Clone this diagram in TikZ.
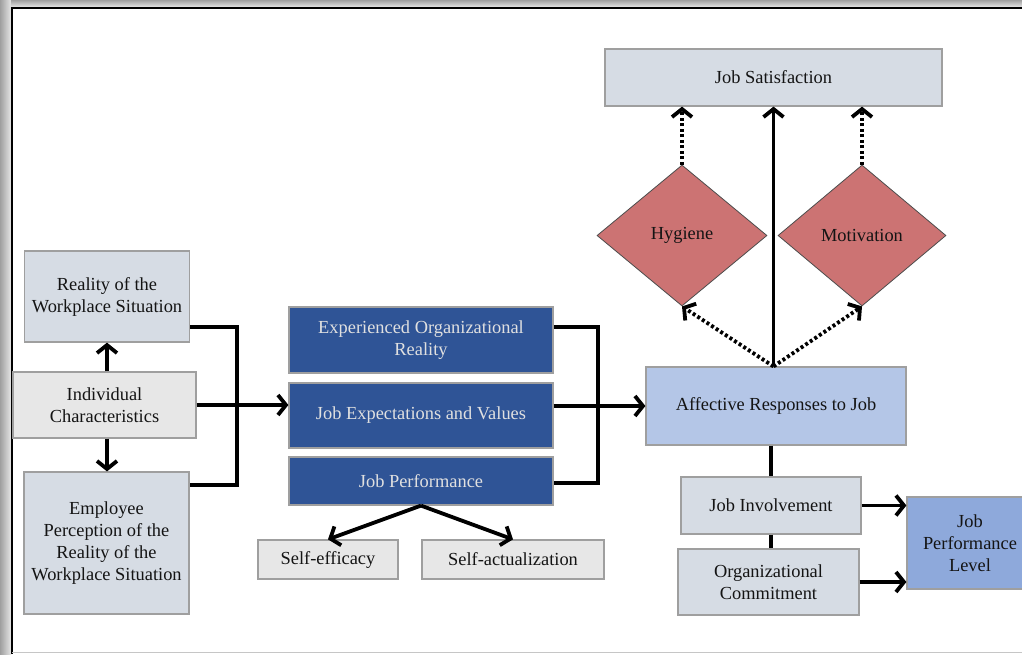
\documentclass[tikz,border=0pt]{standalone}
\usepackage{fontspec}
\setmainfont{Liberation Serif}
\usetikzlibrary{arrows.meta,shapes.geometric}

\definecolor{boxgray}{HTML}{D6DCE4}
\definecolor{lightgray}{HTML}{E7E7E7}
\definecolor{darkblue}{HTML}{2F5496}
\definecolor{paleblue}{HTML}{B4C6E7}
\definecolor{midblue}{HTML}{8EA9DB}
\definecolor{rosered}{HTML}{CC7373}

\begin{document}
\begin{tikzpicture}[x=1pt, y=-1pt, font=\fontsize{18.4}{22}\selectfont]
  \tikzstyle{box} = [draw=gray!75, line width=1.2pt, fill=boxgray, inner sep=0pt, align=center, text=black!92]
  \tikzstyle{bluebox} = [box, fill=darkblue, text=white!88!black]
  \tikzstyle{lozenge} = [diamond, draw=black!70, line width=0.8pt, fill=rosered, inner sep=0pt, text=black!92]
  \tikzstyle{line} = [draw, line width=3.8pt, -{Straight Barb[length=8pt,width=20pt]}]
  \tikzstyle{plain} = [draw, line width=3.8pt]
  \tikzstyle{dotline} = [line, dash pattern=on 3pt off 2.5pt]

  \useasboundingbox (0,0) rectangle (1022,654);
  \shade[left color=gray!75, right color=gray!20] (0,0) rectangle (11,654);
  \shade[top color=gray!75, bottom color=gray!20] (11,0) rectangle (1022,7);
  \draw[line width=2pt] (12,654) -- (12,8) -- (1022,8);
  \draw[gray!45, line width=1.5pt] (12,652.5) -- (1022,652.5);

  % left column
  \node[box, minimum width=165pt, minimum height=91pt] (reality) at (107,296.5) {Reality of the\\Workplace Situation};
  \node[box, fill=lightgray, minimum width=183pt, minimum height=66pt] (indiv) at (104.5,405) {Individual\\Characteristics};
  \node[box, minimum width=165pt, minimum height=142pt] (percep) at (106.5,543) {Employee\\Perception of the\\Reality of the\\Workplace Situation};

  % middle column
  \node[bluebox, minimum width=264pt, minimum height=66pt] (orgreal) at (421,340) {Experienced Organizational\\Reality};
  \node[bluebox, minimum width=264pt, minimum height=65pt] (expect) at (421,415.5) {Job Expectations and Values};
  \node[bluebox, minimum width=264pt, minimum height=48pt] (perform) at (421,481) {Job Performance};
  \node[box, fill=lightgray, minimum width=140pt, minimum height=39pt] (efficacy) at (328,559.5) {Self-efficacy};
  \node[box, fill=lightgray, minimum width=182pt, minimum height=39pt] (actual) at (513,559.5) {Self-actualization};

  % right column
  \node[box, minimum width=337pt, minimum height=57pt] (satisf) at (773.5,77.5) {Job Satisfaction};
  \node[lozenge, minimum width=170pt, minimum height=141pt] (hygiene) at (682,235.5) {Hygiene};
  \node[lozenge, minimum width=168pt, minimum height=141pt] (motiv) at (862,235.5) {Motivation};
  \node[box, fill=paleblue, minimum width=260pt, minimum height=78pt] (affect) at (776,406) {Affective Responses to Job};
  \node[box, minimum width=180pt, minimum height=57pt] (involve) at (771,505.5) {Job Involvement};
  \node[box, minimum width=181pt, minimum height=66pt] (commit) at (768.5,582) {Organizational\\Commitment};
  \node[box, fill=midblue, minimum width=126pt, minimum height=92pt] (level) at (970,543) {Job\\Performance\\Level};

  \coordinate (lbus) at (237,405);
  \coordinate (rbus) at (598,405);

  \path [line] (reality.south |- indiv.north) -- (reality.south);
  \path [line] (reality.south |- indiv.south) -- (reality.south |- percep.north);
  \path [plain] ([yshift=-30.5pt]reality.east) -| (lbus) |- ([yshift=58pt]percep.east);
  \path [line] (indiv.east) -- (indiv.east -| expect.west);

  \path [plain] ([yshift=13pt]orgreal.east) -| (rbus) |- ([yshift=-2pt]perform.east);
  \path [line] (affect.west -| expect.east) -- (affect.west);
  \path [line] (perform.south) -- (efficacy.north);
  \path [line] (perform.south) -- (actual.north);

  \path [line] (satisf.south |- affect.north) -- (satisf.south);
  \path [dotline] (hygiene.north) -- (hygiene.north |- satisf.south);
  \path [dotline] (motiv.north) -- (motiv.north |- satisf.south);
  \path [dotline] (satisf.south |- affect.north) -- (hygiene.south);
  \path [dotline] (satisf.south |- affect.north) -- (motiv.south);

  \path [plain] (involve.north |- affect.south) -- (involve.north);
  \path [plain] (involve.south) -- (involve.south |- commit.north);
  \path [line] (involve.east) -- (level.west |- involve.east);
  \path [line] (commit.east) -- (level.west |- commit.east);

\end{tikzpicture}
\end{document}
